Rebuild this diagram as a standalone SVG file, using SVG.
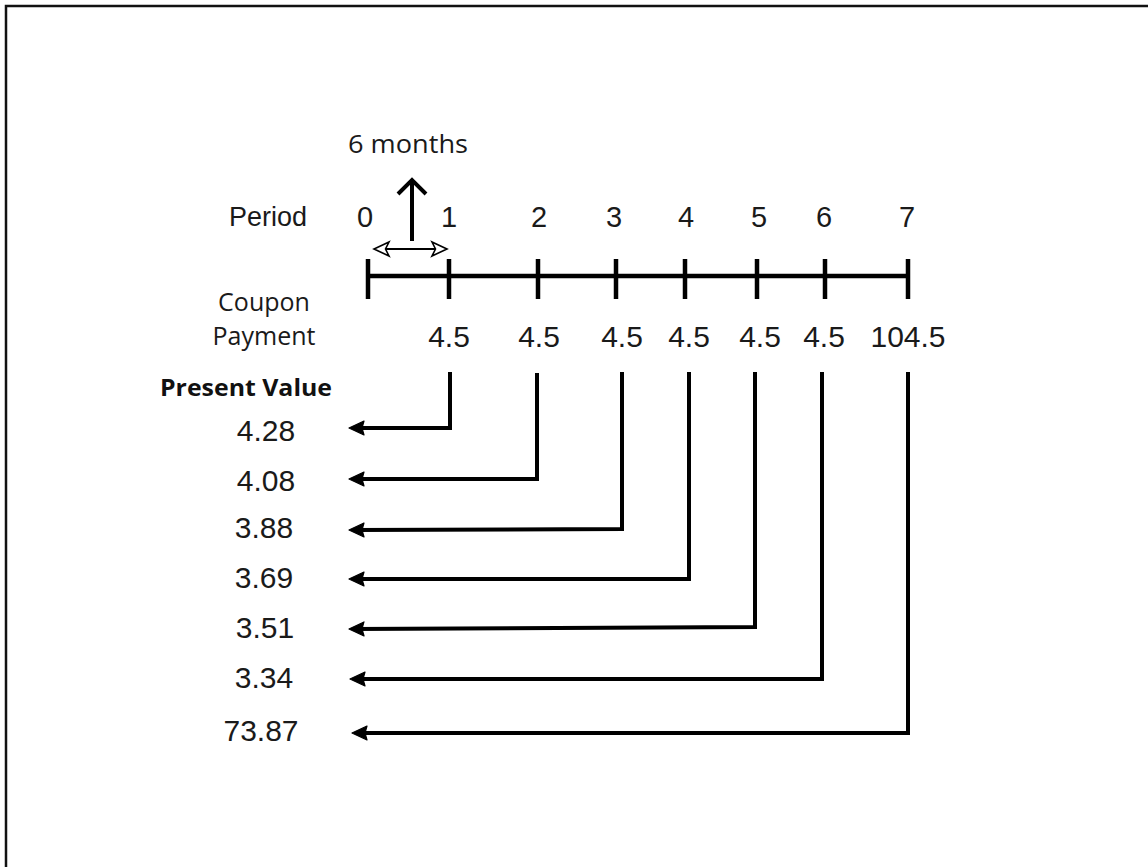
<svg xmlns="http://www.w3.org/2000/svg" width="1148" height="867" viewBox="0 0 1148 867">
<style>
.lbl{font-family:"Open Sans","Noto Sans",sans-serif;font-size:25px;fill:#1a1a1a}
.dig{font-family:"Liberation Sans",Arial,sans-serif;font-size:29px;fill:#1a1a1a;text-anchor:middle}
.val{font-family:"Liberation Sans",Arial,sans-serif;font-size:30px;fill:#1a1a1a;text-anchor:middle}
.tick{stroke:#000;stroke-width:4.5;fill:none}
.conn{stroke:#000;stroke-width:4;fill:none;stroke-linejoin:miter}
</style>
<defs>
<marker id="fa" markerUnits="userSpaceOnUse" markerWidth="20" markerHeight="20" refX="12" refY="10" orient="auto" viewBox="0 0 20 20">
<path d="M17,10 L2,3 L4,10 L2,17 Z" fill="#000" stroke="#000" stroke-width="1.2" stroke-linejoin="round"/>
</marker>
<marker id="ha" markerUnits="userSpaceOnUse" markerWidth="20" markerHeight="20" refX="16" refY="10" orient="auto-start-reverse" viewBox="0 0 20 20">
<path d="M18,10 L3,3 L6.5,10 L3,17 Z" fill="#fff" stroke="#000" stroke-width="1.6" stroke-linejoin="miter"/>
</marker>
</defs>
<rect x="0" y="0" width="1148" height="867" fill="#fff"/>
<rect x="6" y="6" width="1150" height="870" fill="none" stroke="#111" stroke-width="2.5"/>

<g id="header">
<text class="lbl" x="348" y="153" textLength="120" lengthAdjust="spacingAndGlyphs">6 months</text>
<path d="M412,241 L412,180 M398,194 L412,180 L426,194" stroke="#000" stroke-width="4" fill="none"/>
<line x1="376" y1="249" x2="445" y2="249" stroke="#000" stroke-width="2" marker-start="url(#ha)" marker-end="url(#ha)"/>
</g>

<g id="period-row">
<text x="229" y="226" style="font-family:'Liberation Sans',Arial,sans-serif;font-size:27px;fill:#1a1a1a" textLength="78" lengthAdjust="spacingAndGlyphs">Period</text>
<text class="dig" x="365" y="227">0</text>
<text class="dig" x="449" y="227">1</text>
<text class="dig" x="539" y="227">2</text>
<text class="dig" x="614" y="227">3</text>
<text class="dig" x="686" y="227">4</text>
<text class="dig" x="759" y="227">5</text>
<text class="dig" x="824" y="227">6</text>
<text class="dig" x="907" y="227">7</text>
</g>

<g id="timeline">
<line class="tick" x1="368" y1="276" x2="908" y2="276"/>
<line class="tick" x1="368" y1="259" x2="368" y2="299"/>
<line class="tick" x1="449" y1="259" x2="449" y2="299"/>
<line class="tick" x1="538" y1="259" x2="538" y2="299"/>
<line class="tick" x1="616" y1="259" x2="616" y2="299"/>
<line class="tick" x1="685" y1="259" x2="685" y2="299"/>
<line class="tick" x1="757" y1="259" x2="757" y2="299"/>
<line class="tick" x1="825" y1="259" x2="825" y2="299" stroke-width="7"/>
<line class="tick" x1="908" y1="259" x2="908" y2="299"/>
</g>

<g id="coupon-row">
<text class="lbl" x="264" y="311" text-anchor="middle">Coupon</text>
<text class="lbl" x="264" y="345" text-anchor="middle">Payment</text>
<text class="val" x="449" y="347">4.5</text>
<text class="val" x="539" y="347">4.5</text>
<text class="val" x="622" y="347">4.5</text>
<text class="val" x="689" y="347">4.5</text>
<text class="val" x="760" y="347">4.5</text>
<text class="val" x="824" y="347">4.5</text>
<text class="val" x="908" y="347">104.5</text>
</g>

<g id="present-values">
<text x="160" y="396" style="font-family:'Open Sans','Noto Sans',sans-serif;font-weight:bold;font-size:23px;fill:#111" textLength="172" lengthAdjust="spacingAndGlyphs">Present Value</text>
<text class="val" x="266" y="441">4.28</text>
<text class="val" x="266" y="491">4.08</text>
<text class="val" x="264" y="538">3.88</text>
<text class="val" x="264" y="588">3.69</text>
<text class="val" x="265" y="638">3.51</text>
<text class="val" x="264" y="688">3.34</text>
<text class="val" x="261" y="741">73.87</text>
</g>

<g id="connectors">
<path class="conn" d="M450,372 L450,428 L354,428" marker-end="url(#fa)"/>
<path class="conn" d="M537,373 L537,479 L354,479" marker-end="url(#fa)"/>
<path class="conn" d="M622,372 L622,529 L354,530" marker-end="url(#fa)"/>
<path class="conn" d="M689,372 L689,579 L354,579" marker-end="url(#fa)"/>
<path class="conn" d="M755,372 L755,627 L354,629" marker-end="url(#fa)"/>
<path class="conn" d="M822,372 L822,679 L355,679" marker-end="url(#fa)"/>
<path class="conn" d="M908,372 L908,733 L357,733" marker-end="url(#fa)"/>
</g>
</svg>
